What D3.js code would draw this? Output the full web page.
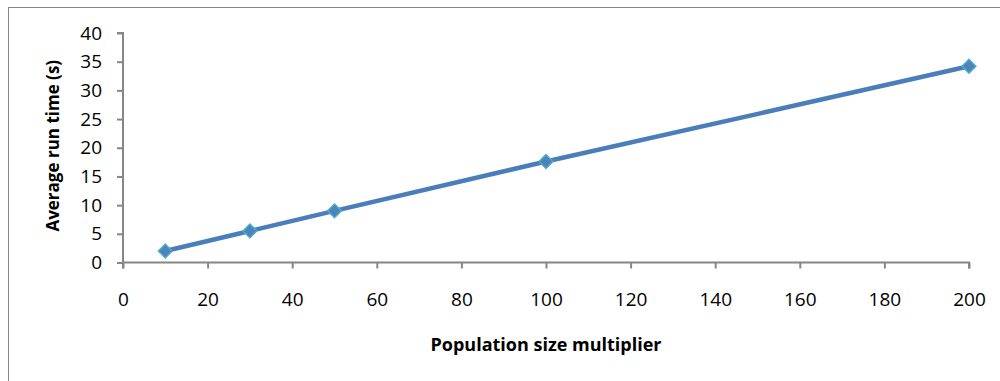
<!DOCTYPE html>
<html>
<head>
<meta charset="utf-8">
<script src="https://cdn.jsdelivr.net/npm/d3@7"></script>
<style>
  html, body { margin: 0; padding: 0; background: #fff; }
  svg { display: block; }
  text { font-family: "Open Sans", "Liberation Sans", sans-serif; fill: #000; }
</style>
</head>
<body>
<svg id="chart" width="1000" height="381"></svg>
<script>
// Population size multiplier vs. average run time
const multipliers = [10, 30, 50, 100, 200];
const runTimes = [2.0, 5.5, 9.0, 17.6, 34.2];
const xTicks = [0, 20, 40, 60, 80, 100, 120, 140, 160, 180, 200];
const yTicks = [0, 5, 10, 15, 20, 25, 30, 35, 40];
const xTitle = "Population size multiplier";
const yTitle = "Average run time (s)";

const svg = d3.select("#chart");
const W = 1000, H = 381;
const margin = { left: 123, right: 31, top: 33, bottom: 118.5 };

// Outer chart frame
svg.append("rect")
  .attr("x", 8.5).attr("y", 7.5)
  .attr("width", W).attr("height", H)
  .attr("fill", "#fff").attr("stroke", "#868686").attr("stroke-width", 1);

const x = d3.scaleLinear().domain([0, 200]).range([margin.left, W - margin.right]);
const y = d3.scaleLinear().domain([0, 40]).range([H - margin.bottom, margin.top]);

// Y axis
const yAxis = svg.append("g")
  .attr("transform", `translate(${margin.left},0)`)
  .call(d3.axisLeft(y).tickValues(yTicks).tickSize(6).tickPadding(15).tickFormat(d3.format("d")));

// X axis
const xAxis = svg.append("g")
  .attr("transform", `translate(0,${y(0)})`)
  .call(d3.axisBottom(x).tickValues(xTicks).tickSize(6).tickPadding(24).tickFormat(d3.format("d")));

[yAxis, xAxis].forEach(g => {
  g.selectAll(".domain").attr("stroke", "#868686").attr("stroke-width", 2);
  g.selectAll(".tick line").attr("stroke", "#868686").attr("stroke-width", 2);
  g.selectAll(".tick text")
    .attr("font-family", "'Open Sans', sans-serif")
    .attr("font-size", 19).attr("fill", "#000");
});
// Keep the axis lines ending exactly at the outer ticks
yAxis.select(".domain").attr("d", `M-6,${y(40)}H0V${y(0)}`);
xAxis.select(".domain").attr("d", `M${x(0)},6V0H${x(200)}V6`);

// Axis titles
svg.append("text")
  .attr("x", (x(0) + x(200)) / 2).attr("y", 351)
  .attr("text-anchor", "middle")
  .attr("font-weight", "bold").attr("font-size", 18)
  .text(xTitle);

svg.append("text")
  .attr("transform", `translate(59,${(y(0) + y(40)) / 2 - 2}) rotate(-90)`)
  .attr("text-anchor", "middle")
  .attr("font-weight", "bold").attr("font-size", 17)
  .text(yTitle);

// Series line
const pts = multipliers.map((m, i) => [m, runTimes[i]]);
svg.append("path")
  .datum(pts)
  .attr("fill", "none")
  .attr("stroke", "#4a7ebb")
  .attr("stroke-width", 4.5)
  .attr("stroke-linejoin", "round")
  .attr("d", d3.line().x(d => x(d[0])).y(d => y(d[1])));

// Diamond markers
const diamond = d3.symbol().type(d3.symbolDiamond2).size(120);
svg.selectAll(".marker")
  .data(pts)
  .join("path")
  .attr("class", "marker")
  .attr("transform", d => `translate(${x(d[0])},${y(d[1])})`)
  .attr("d", diamond)
  .attr("fill", "#4f81bd")
  .attr("stroke", "#4bacc6")
  .attr("stroke-width", 1.5);
</script>
</body>
</html>
